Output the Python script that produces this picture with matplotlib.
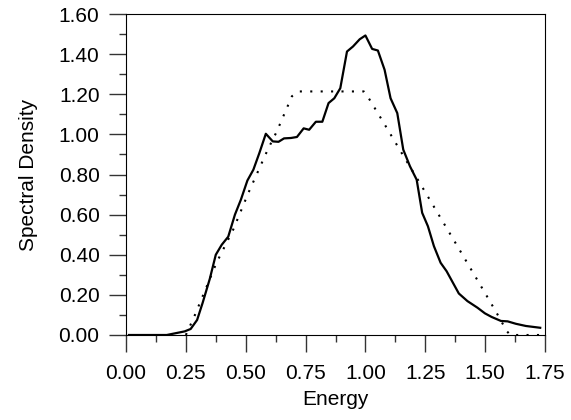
import matplotlib.pyplot as plt
from matplotlib.ticker import MultipleLocator

plt.rcParams['font.family'] = ['Liberation Sans', 'DejaVu Sans']

energy = [0.0125, 0.17, 0.245, 0.27, 0.297, 0.32, 0.35, 0.375, 0.40, 0.427, 0.455, 0.48,
          0.507, 0.532, 0.557, 0.584, 0.613, 0.637, 0.66, 0.689, 0.714, 0.742, 0.765, 0.793,
          0.82, 0.846, 0.87, 0.895, 0.923, 0.948, 0.976, 1.0, 1.028, 1.052, 1.08, 1.105,
          1.133, 1.158, 1.186, 1.214, 1.237, 1.261, 1.286, 1.314, 1.339, 1.39, 1.426, 1.468,
          1.499, 1.527, 1.566, 1.594, 1.628, 1.67, 1.73]
density = [0.0, 0.0, 0.018, 0.03, 0.075, 0.16, 0.28, 0.40, 0.45, 0.49, 0.60, 0.675,
           0.77, 0.824, 0.907, 1.003, 0.965, 0.963, 0.98, 0.982, 0.987, 1.03, 1.023, 1.063,
           1.063, 1.156, 1.18, 1.23, 1.413, 1.438, 1.474, 1.493, 1.426, 1.418, 1.322, 1.18,
           1.106, 0.924, 0.841, 0.774, 0.609, 0.542, 0.443, 0.36, 0.318, 0.207, 0.169, 0.136,
           0.108, 0.09, 0.07, 0.068, 0.056, 0.045, 0.036]

model_energy = [0.25, 0.283, 0.378, 0.448, 0.511, 0.592, 0.63, 0.693, 0.72, 0.993, 1.014,
                1.077, 1.16, 1.223, 1.384, 1.507, 1.549, 1.59, 1.605, 1.73]
model_density = [0.0, 0.086, 0.36, 0.526, 0.708, 0.924, 1.015, 1.19, 1.214, 1.214, 1.18,
                 1.056, 0.89, 0.766, 0.443, 0.194, 0.108, 0.02, 0.0, 0.0]

fig = plt.figure(figsize=(5.71, 4.20), dpi=100)
ax = fig.add_axes([126 / 571, 1 - 335 / 420, 419 / 571, 321 / 420])
ax.plot(energy, density, color='black', lw=1.6)
ax.plot(model_energy, model_density, color='black', lw=1.5, linestyle=(0, (1, 4)))

ax.set_xlim(0, 1.75)
ax.set_ylim(0, 1.6)
ax.xaxis.set_major_locator(MultipleLocator(0.25))
ax.xaxis.set_minor_locator(MultipleLocator(0.125))
ax.yaxis.set_major_locator(MultipleLocator(0.2))
ax.yaxis.set_minor_locator(MultipleLocator(0.1))
ax.xaxis.set_major_formatter('{x:.2f}')
ax.yaxis.set_major_formatter('{x:.2f}')
ax.tick_params(which='both', direction='out', labelsize=15, width=1, color='#333333')
ax.tick_params(which='major', length=12)
ax.tick_params(axis='x', which='major', pad=9)
ax.tick_params(axis='y', which='major', pad=7)
ax.tick_params(which='minor', length=5)
ax.set_xlabel('Energy', fontsize=15, labelpad=5)
ax.set_ylabel('Spectral Density', fontsize=15, labelpad=15)

fig.savefig('out.png', dpi=100)
